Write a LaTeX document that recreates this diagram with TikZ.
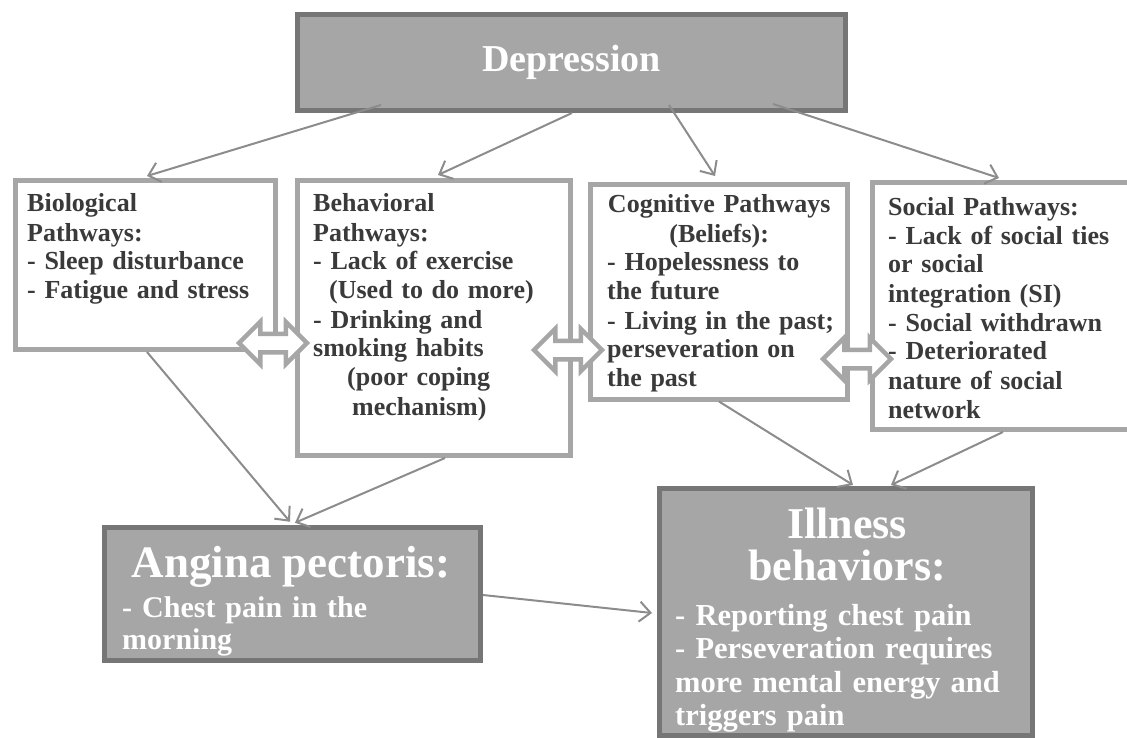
\documentclass[tikz,border=0pt]{standalone}
\usepackage{fontspec}
\setmainfont{Liberation Serif}
\usetikzlibrary{arrows.meta}
\usetikzlibrary{shapes.arrows}
\usetikzlibrary{positioning}

\definecolor{boxGrey}{HTML}{A6A6A6}
\definecolor{boxDark}{HTML}{767676}
\definecolor{lineGrey}{HTML}{8C8C8C}
\definecolor{txtGrey}{HTML}{3A3A3A}

\begin{document}
\begin{tikzpicture}[x=1pt,y=-1pt]
	\tikzset{pathBox/.style = {shape=rectangle, draw=boxGrey, line width=5pt, fill=white, inner sep=0pt}}
	\tikzset{mainBox/.style = {shape=rectangle, draw=boxDark, line width=5pt, fill=boxGrey, inner sep=0pt}}
	\tikzset{edge/.style = {-{Straight Barb[length=11pt,width=20pt]}, draw=lineGrey, line width=2pt}}
	\tikzset{linkArrow/.style = {shape=double arrow, draw=boxGrey, line width=4.5pt, fill=white, 
			inner sep=7pt, minimum height=68pt, minimum width=40pt, double arrow head extend=12pt}}
	\tikzset{txt/.style = {anchor=base west, inner sep=0pt, align=left, text=txtGrey, 
			font=\bfseries\fontsize{26}{29}\selectfont}}
	\tikzset{whiteTxt/.style = {anchor=base west, inner sep=0pt, align=left, text=white, 
			font=\bfseries\fontsize{30}{32.5}\selectfont}}
	\tikzset{headTxt/.style = {anchor=base, inner sep=0pt, align=center, text=white}}
	
	\useasboundingbox (0,0) rectangle (1127,738);
	
	% boxes
	\node[mainBox, minimum width=548pt, minimum height=96pt, text=white, 
		font=\bfseries\fontsize{38}{44}\selectfont] (dep) at (571.5,62.5) {Depression};
	\node[pathBox, minimum width=260pt, minimum height=169pt] (bio) at (145.5,265) {};
	\node[pathBox, minimum width=273pt, minimum height=275pt] (beh) at (434,318) {};
	\node[pathBox, minimum width=257pt, minimum height=214.5pt] (cog) at (719,291.75) {};
	\node[pathBox, minimum width=267pt, minimum height=247pt] (soc) at (1006,306) {};
	\node[mainBox, minimum width=376pt, minimum height=133.5pt] (ang) at (292.5,594) {};
	\node[mainBox, minimum width=373pt, minimum height=247pt] (ill) at (846,612) {};
	
	% texts
	\node[txt, text width=245pt] (bioTxt) at (27,212) {Biological\\Pathways:\\- Sleep disturbance\\- Fatigue and stress};
	\node[txt, text width=250pt] (behTxt) at (313,212) {Behavioral\\Pathways:\\- Lack of exercise\\
		\hspace*{16pt}(Used to do more)\\- Drinking and\\smoking habits\\
		\hspace*{34pt}(poor coping\\\hspace*{39pt}mechanism)};
	\node[txt, text width=260pt] (cogTxt) at (607,213) {\makebox[224pt][c]{Cognitive Pathways}\\
		\makebox[224pt][c]{(Beliefs):}\\- Hopelessness to\\the future\\- Living in the past;\\
		perseveration on\\the past};
	\node[txt, text width=240pt] (socTxt) at (888,215) {Social Pathways:\\- Lack of social ties\\or social\\
		integration (SI)\\- Social withdrawn\\- Deteriorated\\nature of social\\network};
	\node[headTxt, font=\bfseries\fontsize{45}{48}\selectfont] (angHead) at (291,577) {Angina pectoris:};
	\node[whiteTxt, text width=340pt] (angTxt) at (122,617) {- Chest pain in the\\morning};
	\node[headTxt, text width=344pt, font=\bfseries\fontsize{44}{42}\selectfont] (illHead) at (847,538) {Illness\\behaviors:};
	\node[whiteTxt, text width=350pt, font=\bfseries\fontsize{30.5}{33.5}\selectfont] (illTxt) at (675,625) 
		{- Reporting chest pain\\- Perseveration requires\\more mental energy and\\triggers pain};
	
	% double arrows
	\node[linkArrow] (bioBeh) at (273,343) {};
	\node[linkArrow] (behCog) at (568,350) {};
	\node[linkArrow] (cogSoc) at (857,359) {};
	
	%edges
	\draw[edge] ([xshift=-190.5pt,yshift=8pt]dep.south) to ([xshift=1.5pt,yshift=2pt]bio.north);
	\draw[edge] ([xshift=0.5pt]dep.south) to ([xshift=4pt,yshift=3pt]beh.north);
	\draw[edge] ([xshift=97.5pt,yshift=8pt]dep.south) to ([xshift=-4pt,yshift=6pt]cog.north);
	\draw[edge] ([xshift=201.5pt,yshift=9pt]dep.south) to ([xshift=-7pt,yshift=2pt]soc.north);
	\draw[edge] ([xshift=1.5pt]bio.south) to ([xshift=-2.5pt,yshift=3pt]ang.north);
	\draw[edge] ([xshift=11pt]beh.south) to ([xshift=2.5pt,yshift=2pt]ang.north);
	\draw[edge] (cog.south) to ([xshift=7pt,yshift=1pt]ill.north);
	\draw[edge] ([xshift=-3pt]soc.south) to ([xshift=45pt,yshift=1pt]ill.north);
	\draw[edge] ([yshift=-1pt]ang.east) to ([xshift=-5pt,yshift=-1pt]ill.west);
	
\end{tikzpicture}
\end{document}
